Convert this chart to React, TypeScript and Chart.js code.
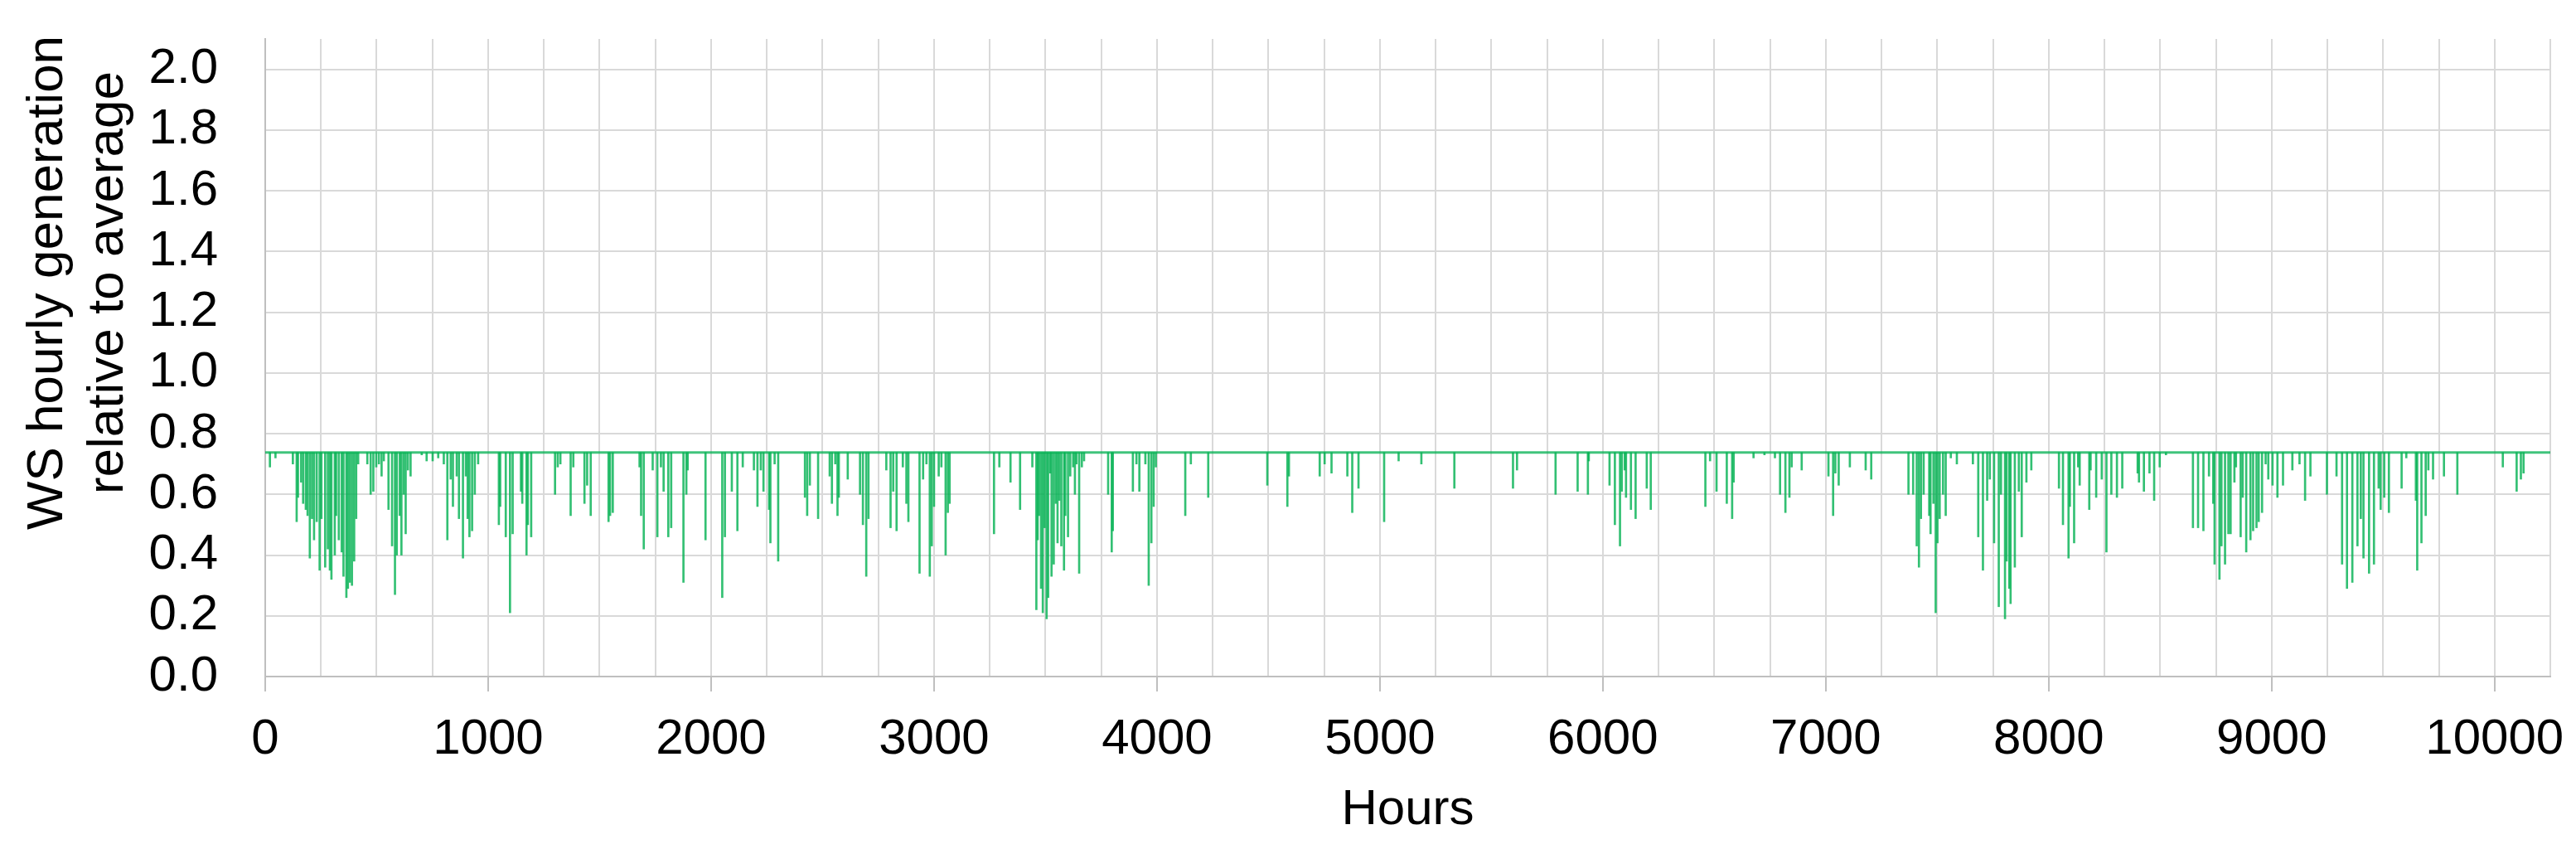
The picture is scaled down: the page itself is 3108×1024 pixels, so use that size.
import { useEffect, useRef } from "react";
import { Chart, registerables } from "chart.js";

Chart.register(...registerables);

// capped level of the hourly series (relative to average)
const BASE_LEVEL = 0.738;
const HOURS_START = 0;
const HOURS_END = 10250;
const Y_TOP_LABEL = 2.0;

// hours where generation drops below the cap, and the value reached
const dipHours = [
  21, 46, 124, 141, 147, 161, 170, 182, 190, 200, 210, 219, 231, 244, 252, 269, 281, 290, 297, 312,
  318, 330, 343, 351, 364, 371, 380, 389, 399, 408, 417, 458, 473, 485, 498, 510, 522, 532, 553, 569,
  582, 590, 603, 611, 621, 630, 640, 652, 702, 724, 751, 776, 801, 817, 832, 842, 859, 869, 887, 900,
  908, 916, 928, 940, 955, 1048, 1054, 1079, 1098, 1110, 1147, 1153, 1172, 1178, 1193, 1300, 1312, 1324, 1370, 1382,
  1432, 1444, 1460, 1540, 1547, 1559, 1679, 1686, 1698,
  1738, 1759, 1775, 1787, 1808, 1821, 1876, 1889, 1895, 1975, 2050, 2062, 2093, 2118, 2142, 2192, 2208, 2223, 2235, 2260,
  2266, 2285, 2301, 2421, 2431, 2443, 2480, 2532, 2542, 2557, 2567, 2573, 2613, 2668, 2681, 2696, 2706, 2786, 2805, 2817,
  2832, 2860, 2876, 2885, 2935, 2951, 2966, 2981, 2990, 3000, 3021, 3033, 3052, 3062, 3070, 3269, 3293, 3343, 3386,
  3441, 3459, 3465, 3471, 3480, 3488, 3496, 3505, 3512, 3521, 3527, 3537, 3546, 3554, 3562, 3571, 3583, 3589, 3601, 3611,
  3624, 3632, 3639, 3651, 3663, 3673, 3781, 3797, 3802, 3892, 3908, 3921, 3948, 3963, 3975, 3985, 3995, 4127, 4152, 4230,
  4495, 4585, 4592, 4730, 4752, 4783, 4854, 4876, 4904, 5019, 5084,
  5186, 5334, 5597, 5615, 5788, 5887, 5933, 5937, 6030, 6054, 6077, 6085, 6098, 6104, 6126, 6147, 6197, 6215, 6460, 6481,
  6510, 6556, 6580, 6587, 6676, 6725, 6772, 6795, 6819, 6837, 6847,
  6892, 7012, 7033, 7043, 7058, 7108, 7179, 7204, 7371, 7392, 7408, 7418, 7427, 7439, 7464, 7470, 7483, 7493, 7501, 7511,
  7526, 7538, 7561, 7588, 7660, 7684, 7705, 7724, 7736, 7755, 7776, 7786, 7804, 7811, 7823, 7829, 7848, 7866, 7879, 7900,
  7922, 8046, 8064, 8089, 8095, 8114, 8132, 8139, 8182, 8188, 8213, 8238, 8259, 8281, 8306, 8330, 8399, 8405, 8427, 8452,
  8473, 8498, 8526,
  8647, 8670, 8694, 8719, 8738, 8744, 8766, 8775, 8791, 8806, 8816, 8833, 8840, 8861, 8870, 8886, 8905, 8917, 8932, 8942,
  8957, 8973, 8985, 9004, 9026, 9051, 9093, 9125, 9150, 9174, 9248, 9291, 9316, 9338, 9362, 9385, 9400, 9412, 9437, 9459,
  9480, 9489, 9505, 9526, 9583, 9604, 9647, 9653, 9672, 9691, 9703, 9724, 9773, 9833, 10037, 10099, 10118, 10130,
];

const dipValues = [
  0.69, 0.72, 0.7, 0.51, 0.59, 0.64, 0.57, 0.55, 0.53, 0.39, 0.52, 0.45, 0.51, 0.35, 0.52, 0.36, 0.42, 0.35, 0.32, 0.4,
  0.53, 0.45, 0.41, 0.33, 0.26, 0.29, 0.31, 0.3, 0.38, 0.52, 0.7, 0.7, 0.6, 0.61, 0.69, 0.7, 0.66, 0.71, 0.55, 0.43,
  0.27, 0.4, 0.53, 0.4, 0.6, 0.47, 0.68, 0.66, 0.73, 0.71, 0.71, 0.72, 0.7, 0.45, 0.65, 0.56, 0.66, 0.52, 0.39, 0.66,
  0.52, 0.46, 0.48, 0.6, 0.7, 0.5, 0.56, 0.46, 0.21, 0.47, 0.61, 0.57, 0.4, 0.5, 0.46, 0.6, 0.69, 0.7, 0.53, 0.69,
  0.57, 0.63, 0.53, 0.51, 0.53, 0.54, 0.69, 0.53, 0.42,
  0.68, 0.46, 0.69, 0.61, 0.46, 0.49, 0.31, 0.6, 0.68, 0.45, 0.26, 0.46, 0.61, 0.48, 0.69, 0.68, 0.56, 0.68, 0.61, 0.55,
  0.44, 0.7, 0.38, 0.59, 0.53, 0.63, 0.52, 0.66, 0.57, 0.7, 0.53, 0.59, 0.65, 0.6, 0.5, 0.33, 0.52, 0.68, 0.49, 0.61,
  0.48, 0.69, 0.57, 0.51, 0.34, 0.65, 0.7, 0.33, 0.43, 0.56, 0.66, 0.69, 0.4, 0.54, 0.57, 0.47, 0.69, 0.64, 0.55,
  0.69, 0.22, 0.45, 0.53, 0.29, 0.21, 0.49, 0.19, 0.26, 0.67, 0.33, 0.37, 0.57, 0.44, 0.58, 0.43, 0.35, 0.53, 0.46, 0.66,
  0.69, 0.6, 0.7, 0.34, 0.69, 0.71, 0.6, 0.41, 0.48, 0.61, 0.7, 0.61, 0.7, 0.3, 0.44, 0.56, 0.69, 0.53, 0.7, 0.59,
  0.63, 0.56, 0.66, 0.66, 0.7, 0.67, 0.66, 0.54, 0.62, 0.51, 0.71,
  0.7, 0.62, 0.62, 0.68, 0.6, 0.61, 0.6, 0.71, 0.63, 0.5, 0.43, 0.61, 0.68, 0.59, 0.55, 0.52, 0.62, 0.55, 0.56, 0.71,
  0.61, 0.57, 0.52, 0.64, 0.72, 0.73, 0.72, 0.6, 0.54, 0.59, 0.69,
  0.68, 0.66, 0.53, 0.67, 0.63, 0.69, 0.68, 0.65, 0.6, 0.6, 0.43, 0.36, 0.52, 0.6, 0.53, 0.47, 0.57, 0.21, 0.44, 0.52,
  0.6, 0.53, 0.72, 0.7, 0.7, 0.46, 0.35, 0.58, 0.65, 0.44, 0.23, 0.6, 0.19, 0.38, 0.29, 0.24, 0.36, 0.61, 0.46, 0.64,
  0.68, 0.62, 0.5, 0.39, 0.56, 0.44, 0.69, 0.63, 0.55, 0.68, 0.59, 0.65, 0.41, 0.6, 0.59, 0.62, 0.67, 0.64, 0.61, 0.67,
  0.58, 0.69, 0.73,
  0.49, 0.49, 0.48, 0.66, 0.57, 0.37, 0.32, 0.43, 0.37, 0.47, 0.47, 0.64, 0.69, 0.46, 0.59, 0.41, 0.45, 0.48, 0.49, 0.51,
  0.54, 0.7, 0.65, 0.63, 0.59, 0.63, 0.68, 0.7, 0.58, 0.66, 0.6, 0.66, 0.37, 0.29, 0.31, 0.43, 0.52, 0.39, 0.34, 0.37,
  0.62, 0.55, 0.59, 0.54, 0.62, 0.72, 0.58, 0.35, 0.44, 0.53, 0.68, 0.65, 0.66, 0.6, 0.69, 0.61, 0.65, 0.67,
];

const FONT_FAMILY = '"Liberation Sans", Arial, sans-serif';
const FONT = { family: FONT_FAMILY, size: 60 };
const Y_TITLE = ["WS hourly generation", "relative to average"];

export default function App() {
  const canvasRef = useRef<HTMLCanvasElement | null>(null);
  const chartRef = useRef<Chart | null>(null);

  useEffect(() => {
    if (!canvasRef.current) return;
    chartRef.current?.destroy();

    // two-line y title, placed like the original (centred above mid-axis)
    const yTitlePlugin = {
      id: "yTitle",
      afterDraw(chart: Chart) {
        const { ctx, chartArea } = chart;
        ctx.save();
        ctx.font = `62px ${FONT_FAMILY}`;
        ctx.fillStyle = "#000";
        ctx.textAlign = "center";
        ctx.textBaseline = "middle";
        const cy = chartArea.top + 294;
        Y_TITLE.forEach((line, i) => {
          ctx.save();
          ctx.translate(chartArea.left - 262 + i * 73, cy);
          ctx.rotate(-Math.PI / 2);
          ctx.fillText(line, 0, 0);
          ctx.restore();
        });
        ctx.restore();
      },
    };

    chartRef.current = new Chart(canvasRef.current, {
      type: "bar",
      data: {
        datasets: [
          {
            type: "line",
            label: "WS",
            data: [
              { x: HOURS_START, y: BASE_LEVEL },
              { x: HOURS_END, y: BASE_LEVEL },
            ],
            borderColor: "rgba(0, 176, 80, 0.75)",
            borderWidth: 3,
            pointRadius: 0,
            order: 0,
          },
          {
            type: "bar",
            label: "WS dips",
            data: dipHours.map((h, i) => ({ x: h, y: [dipValues[i], BASE_LEVEL] })),
            backgroundColor: "rgba(0, 176, 80, 0.8)",
            borderWidth: 0,
            barThickness: 2,
            order: 1,
          },
        ],
      } as any,
      options: {
        animation: false,
        responsive: true,
        maintainAspectRatio: false,
        layout: { padding: { left: 180, right: 31, top: 47, bottom: 11 } },
        plugins: {
          legend: { display: false },
          tooltip: { enabled: false },
        },
        scales: {
          x: {
            type: "linear",
            min: HOURS_START,
            max: HOURS_END,
            offset: false,
            grid: {
              color: "#d9d9d9",
              lineWidth: 2,
              offset: false,
              tickLength: 18,
              tickWidth: 2,
              tickColor: (c: any) =>
                c.tick && c.tick.value % 1000 === 0 ? "#bfbfbf" : "rgba(0,0,0,0)",
            },
            border: { color: "#bfbfbf", width: 2 },
            ticks: {
              stepSize: 250,
              autoSkip: false,
              maxRotation: 0,
              padding: 22,
              color: "#000",
              font: FONT,
              callback: (v: any) => (Number(v) % 1000 === 0 ? String(v) : ""),
            },
            title: {
              display: true,
              text: "Hours",
              color: "#000",
              font: FONT,
              padding: { top: 13, bottom: 0 },
            },
            afterFit: (scale: any) => {
              scale.height = 197;
            },
          },
          y: {
            min: 0,
            max: 2.1,
            bounds: "data",
            grid: { color: "#d9d9d9", lineWidth: 2, drawTicks: false },
            border: { color: "#bfbfbf", width: 2 },
            ticks: {
              stepSize: 0.2,
              autoSkip: false,
              padding: 57,
              color: "#000",
              font: FONT,
              callback: (v: any) => Number(v).toFixed(1),
            },
            afterBuildTicks: (scale: any) => {
              scale.ticks = scale.ticks.filter((t: any) => t.value <= Y_TOP_LABEL + 1e-9);
            },
            afterFit: (scale: any) => {
              scale.width = 140;
              scale.paddingTop = 0;
              scale.paddingBottom = 0;
            },
          },
        },
      } as any,
      plugins: [yTitlePlugin],
    });

    return () => chartRef.current?.destroy();
  }, []);

  return (
    <div
      style={{
        position: "fixed",
        left: 0,
        top: 0,
        width: 3108,
        height: 1024,
        background: "#fff",
      }}
    >
      <canvas ref={canvasRef} />
    </div>
  );
}
